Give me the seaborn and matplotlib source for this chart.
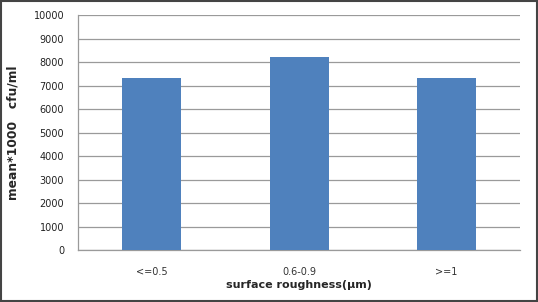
import matplotlib
matplotlib.use("Agg")
import matplotlib.pyplot as plt
import seaborn as sns
import pandas as pd

# values
categories = ["<=0.5", "0.6-0.9", ">=1"]
means = [7320, 8200, 7320]
y_ticks = [0, 1000, 2000, 3000, 4000, 5000, 6000, 7000, 8000, 9000, 10000]

df = pd.DataFrame({"roughness": categories, "mean": means})

sns.set_style("white")
plt.rcParams["font.family"] = ["DejaVu Sans"]

fig = plt.figure(figsize=(5.38, 3.02), dpi=100)
ax = fig.add_axes([0.145, 0.172, 0.822, 0.778])

sns.barplot(data=df, x="roughness", y="mean", color="#4f81bd", width=0.4,
            saturation=1, linewidth=0, ax=ax, zorder=3)

ax.set_ylim(0, 10000)
ax.set_yticks(y_ticks)
ax.set_xlim(-0.5, 2.5)
ax.yaxis.grid(True, color="#9a9a9a", linewidth=0.9, zorder=0)
ax.set_axisbelow(True)

# category boundary ticks like a spreadsheet chart
ax.set_xticks([0, 1, 2])
ax.set_xticks([0.5, 1.5], minor=True)
ax.tick_params(axis="x", which="major", length=0, labelsize=7, colors="#333333", pad=12)
ax.tick_params(axis="x", which="minor", length=3, color="#9a9a9a", direction="out")
ax.tick_params(axis="y", length=4, labelsize=7, labelcolor="#222222", pad=6,
               direction="out", color="#9a9a9a")

for s in ["top", "right"]:
    ax.spines[s].set_visible(False)
for s in ["left", "bottom"]:
    ax.spines[s].set_color("#9a9a9a")
    ax.spines[s].set_linewidth(0.9)

ax.set_xlabel("surface roughness(µm)", fontsize=8, fontweight="bold", labelpad=2)
ax.set_ylabel("mean*1000   cfu/ml", fontsize=8.8, fontweight="bold", labelpad=10)

# outer frame
fig.patches.append(plt.Rectangle((0.002, 0.003), 0.996, 0.994, transform=fig.transFigure,
                                 fill=False, edgecolor="#444444", linewidth=1.5))

fig.savefig("out.png", dpi=100)
